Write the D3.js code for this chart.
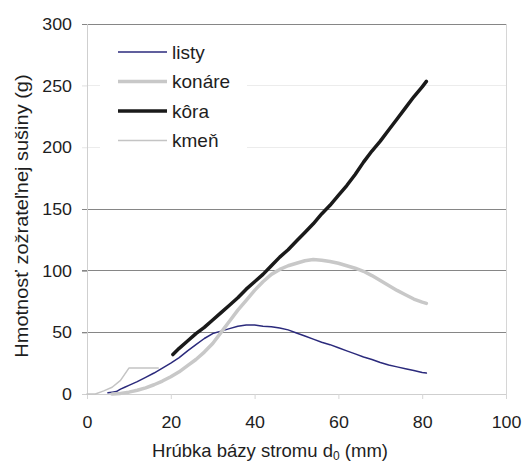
<!DOCTYPE html>
<html>
<head>
<meta charset="utf-8">
<script src="https://cdn.jsdelivr.net/npm/d3@7"></script>
<style>
  html, body { margin: 0; padding: 0; background: #fff; }
  svg { display: block; font-family: "Liberation Sans", Arial, sans-serif; }
</style>
</head>
<body>
<svg id="chart" width="522" height="463"></svg>
<script>
// Hrúbka bázy stromu d0 (mm) and dry mass of each component (g)
const listyD = [5, 6, 7, 8, 9, 10, 12, 14, 16, 18, 20, 22, 24, 26, 28, 30, 32, 34, 36, 38, 40, 42, 44, 46, 48, 50, 52, 54, 56, 58, 60, 62, 64, 66, 68, 70, 72, 74, 76, 78, 80, 81];
const listyV = [1, 1.5, 2, 4, 5.5, 7, 10, 13.5, 17, 21, 25, 29.5, 35, 40, 45, 49, 51, 53, 55, 56, 56, 55, 54.5, 53.5, 52, 49.5, 47, 44.5, 42, 40, 37.5, 35, 32.5, 30, 28, 25.5, 23.5, 22, 20.5, 19, 17.5, 17];

const konareD = [6, 8, 10, 12, 14, 16, 18, 20, 22, 24, 26, 28, 30, 32, 34, 36, 38, 40, 42, 44, 46, 48, 50, 52, 54, 56, 58, 60, 62, 64, 66, 68, 70, 72, 74, 76, 78, 80, 81];
const konareV = [0, 0.5, 1.5, 3, 5, 7.5, 10.5, 14, 18, 23, 28, 34, 41, 50, 59, 68, 76, 84, 91, 97, 101, 104, 106, 108, 109, 108.5, 107.5, 106, 104, 102, 99.5, 96, 92, 88, 84, 80.5, 77, 74.5, 73.5];

const koraD = [20.5, 22, 24, 26, 28, 30, 32, 34, 36, 38, 40, 42, 44, 46, 48, 50, 52, 54, 56, 58, 60, 62, 64, 66, 68, 70, 72, 74, 76, 78, 80, 81];
const koraV = [32, 37, 43, 49, 54, 60, 66, 72, 78, 85, 91, 97, 104, 111, 117, 124, 131, 138, 146, 153, 161, 169, 178, 188, 197, 205, 214, 223, 232, 241, 249, 253.5];

const kmenD = [0, 2, 4, 6, 8, 10, 12, 14, 16, 17];
const kmenV = [0, 0, 2.5, 5.5, 11, 21, 21, 21, 21, 21];

const xTicks = [0, 20, 40, 60, 80, 100];
const yTicks = [0, 50, 100, 150, 200, 250, 300];

const seriesNames = ["listy", "konáre", "kôra", "kmeň"];
const seriesData = [
  { name: seriesNames[0], d: listyD, v: listyV, color: "#2b2a7c", width: 1.5 },
  { name: seriesNames[1], d: konareD, v: konareV, color: "#c8c8c8", width: 3.5 },
  { name: seriesNames[2], d: koraD, v: koraV, color: "#1a1a1a", width: 3.5 },
  { name: seriesNames[3], d: kmenD, v: kmenV, color: "#c4c4c4", width: 1.5 }
];

const svg = d3.select("#chart");
const plotLeft = 87, plotRight = 506, plotTop = 24, plotBottom = 394;
const textColor = "#1e1e1e";
const stretch = 1.08; // tick digits are drawn slightly wide

const x = d3.scaleLinear().domain([0, 100]).range([plotLeft, plotRight]);
const y = d3.scaleLinear().domain([0, 300]).range([plotBottom, plotTop]);

// horizontal gridlines (darker at 50/100/150/300, faint at 200/250)
const gridColor = v => (v === 200 || v === 250) ? "#ececec" : "#868686";
svg.append("g").selectAll("line")
  .data(yTicks.filter(v => v > 0))
  .join("line")
  .attr("x1", plotLeft - 5).attr("x2", plotRight)
  .attr("y1", d => y(d)).attr("y2", d => y(d))
  .attr("stroke", gridColor).attr("stroke-width", 1)
  .attr("shape-rendering", "crispEdges");

// right border
svg.append("line")
  .attr("x1", plotRight).attr("x2", plotRight)
  .attr("y1", plotTop).attr("y2", plotBottom)
  .attr("stroke", "#d6d6d6").attr("shape-rendering", "crispEdges");

// x axis
const xAxis = svg.append("g")
  .attr("transform", `translate(0,${plotBottom})`)
  .call(d3.axisBottom(x).tickValues(xTicks).tickSize(5));
xAxis.select(".domain").attr("stroke", "#cfcfcf").attr("shape-rendering", "crispEdges");
xAxis.selectAll(".tick line").attr("stroke", "#d6d6d6");
xAxis.selectAll(".tick text")
  .attr("y", null).attr("dy", null)
  .attr("transform", `translate(0,34) scale(${stretch},1)`)
  .attr("font-size", 16.5).attr("fill", textColor)
  .attr("font-family", "Liberation Sans, Arial, sans-serif");

// y axis
const yAxis = svg.append("g")
  .attr("transform", `translate(${plotLeft},0)`)
  .call(d3.axisLeft(y).tickValues(yTicks).tickSize(5));
yAxis.select(".domain").attr("stroke", "#cfcfcf").attr("shape-rendering", "crispEdges");
yAxis.selectAll(".tick line").attr("stroke", d => d === 0 ? "#cfcfcf" : gridColor(d));
yAxis.selectAll(".tick text")
  .attr("x", null).attr("dy", "0.34em")
  .attr("transform", `translate(-15,0) scale(${stretch},1)`)
  .attr("font-size", 16.5).attr("fill", textColor)
  .attr("font-family", "Liberation Sans, Arial, sans-serif");

// series lines
const line = d3.line()
  .x((p) => x(p[0]))
  .y((p) => y(p[1]));

svg.append("g").selectAll("path")
  .data([seriesData[3], seriesData[0], seriesData[1], seriesData[2]])
  .join("path")
  .attr("d", s => line(s.d.map((dv, i) => [dv, s.v[i]])))
  .attr("fill", "none")
  .attr("stroke", s => s.color)
  .attr("stroke-width", s => s.width)
  .attr("stroke-linejoin", "round")
  .attr("stroke-linecap", "round");

// legend
const legend = svg.append("g");
legend.append("rect")
  .attr("x", 100).attr("y", 36).attr("width", 147).attr("height", 122)
  .attr("fill", "#fff");
const lg = legend.selectAll("g.item")
  .data(seriesData)
  .join("g")
  .attr("class", "item")
  .attr("transform", (s, i) => `translate(0,${52 + i * 29.5})`);
lg.append("line")
  .attr("x1", 118).attr("x2", 167)
  .attr("stroke", s => s.color)
  .attr("stroke-width", s => s.width);
lg.append("text")
  .attr("x", 172).attr("y", 6.5)
  .attr("font-size", 19).attr("fill", textColor)
  .text(s => s.name);

// axis titles
const xTitle = svg.append("text")
  .attr("x", 270).attr("y", 456.5)
  .attr("text-anchor", "middle")
  .attr("font-size", 18.5).attr("fill", textColor);
xTitle.append("tspan").text("Hrúbka bázy stromu d");
xTitle.append("tspan").attr("font-size", 12).attr("dy", 3.5).text("0");
xTitle.append("tspan").attr("dy", -3.5).text(" (mm)");

svg.append("text")
  .attr("transform", "translate(28,216) rotate(-90) scale(1,0.92)")
  .attr("text-anchor", "middle")
  .attr("font-size", 20).attr("fill", textColor)
  .text("Hmotnosť zožrateľnej sušiny (g)");
</script>
</body>
</html>
